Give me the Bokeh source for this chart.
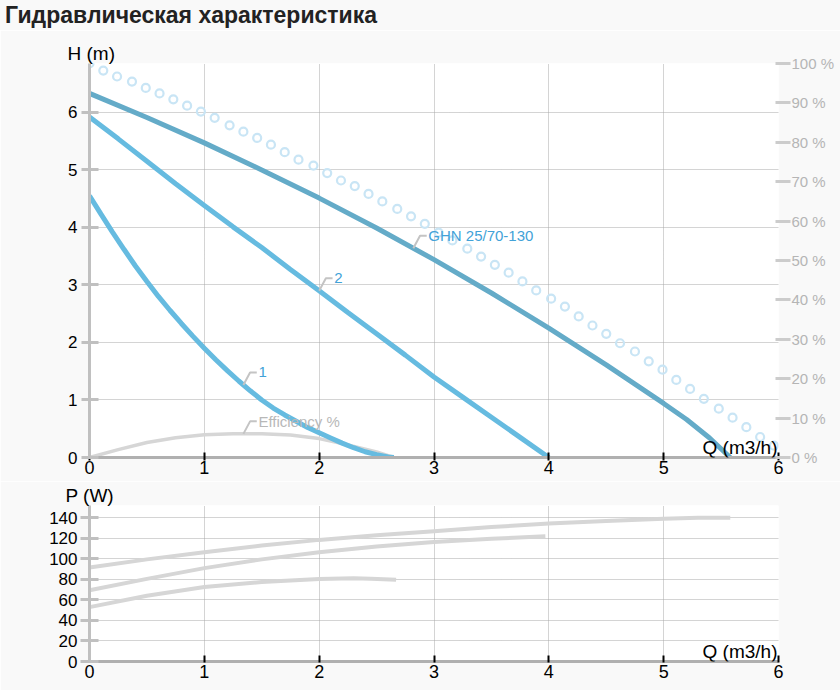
import numpy as np
from bokeh.plotting import figure
from bokeh.models import Range1d, LinearAxis, FixedTicker, PrintfTickFormatter, Label, Title, Div
from bokeh.layouts import column
from bokeh.embed import file_html
from bokeh.resources import INLINE

# ---------------- data ----------------
TITLE = "Гидравлическая характеристика"
X_TICKS = [0, 1, 2, 3, 4, 5, 6]
H_TICKS = [0, 1, 2, 3, 4, 5, 6]
PCT_TICKS = [0, 10, 20, 30, 40, 50, 60, 70, 80, 90, 100]
P_TICKS = [0, 20, 40, 60, 80, 100, 120, 140]

# head curves H (m) vs Q (m3/h)
q_max = [0, 0.5, 1.0, 1.5, 2.0, 2.5, 3.0, 3.5, 4.0, 4.5, 5.0, 5.2, 5.4, 5.58]
h_max = [6.33, 5.91, 5.47, 5.00, 4.51, 3.99, 3.44, 2.86, 2.25, 1.61, 0.94, 0.66, 0.34, 0.0]

q_2 = [0, 0.25, 0.5, 0.75, 1.0, 1.25, 1.5, 1.75, 2.0, 2.25, 2.5, 2.75, 3.0, 3.25, 3.5, 3.75, 4.0]
h_2 = [5.92, 5.54, 5.15, 4.76, 4.38, 4.01, 3.65, 3.27, 2.90, 2.52, 2.15, 1.78, 1.40, 1.05, 0.70, 0.35, 0.0]

q_1 = [0, 0.1, 0.2, 0.3, 0.4, 0.5, 0.6, 0.7, 0.8, 0.9, 1.0, 1.1, 1.2, 1.3, 1.4,
       1.5, 1.6, 1.7, 1.8, 1.9, 2.0, 2.1, 2.2, 2.3, 2.4, 2.5, 2.6, 2.65]
h_1 = [4.55, 4.23, 3.92, 3.62, 3.33, 3.06, 2.80, 2.56, 2.33, 2.11, 1.90, 1.70, 1.51, 1.33, 1.16,
       1.00, 0.86, 0.74, 0.63, 0.52, 0.43, 0.34, 0.25, 0.17, 0.10, 0.05, 0.01, 0.0]

# efficiency (%)
q_eff = [0, 0.25, 0.5, 0.75, 1.0, 1.25, 1.5, 1.75, 2.0, 2.25, 2.5, 2.65]
eff = [0, 2.0, 3.8, 5.0, 5.8, 6.0, 6.0, 5.7, 4.8, 3.2, 1.4, 0]

# dotted circle series (%)
q_circ = [0.00, 0.12, 0.24, 0.37, 0.49, 0.61, 0.73, 0.85, 0.97, 1.09,
          1.22, 1.34, 1.46, 1.58, 1.70, 1.82, 1.95, 2.07, 2.19, 2.31,
          2.43, 2.55, 2.68, 2.80, 2.92, 3.04, 3.16, 3.29, 3.41, 3.53,
          3.65, 3.77, 3.89, 4.02, 4.14, 4.26, 4.38, 4.50, 4.62, 4.75,
          4.87, 4.99, 5.11, 5.23, 5.35, 5.48, 5.60, 5.72, 5.84, 5.96]
pct_circ = [100, 98.2, 96.7, 95.4, 93.8, 92.4, 90.9, 89.3, 87.8, 86.2,
            84.3, 82.7, 81.1, 79.4, 77.5, 75.6, 74.1, 72.2, 70.3, 68.9,
            66.9, 65.0, 63.1, 61.2, 59.3, 57.1, 55.1, 53.0, 51.0, 48.9,
            46.9, 44.7, 42.4, 40.3, 38.3, 35.8, 33.5, 31.4, 29.0, 26.9,
            24.4, 22.3, 19.7, 17.4, 14.9, 12.4, 10.1, 7.7, 5.2, 3.0]

# power curves P (W)
qp_max = [0, 0.5, 1.0, 1.5, 2.0, 2.5, 3.0, 3.5, 4.0, 4.5, 5.0, 5.3, 5.58]
p_max = [91.5, 99.5, 106.5, 113, 118.5, 123, 127, 131, 134.5, 137, 139, 140, 140]
qp_2 = [0, 0.5, 1.0, 1.5, 2.0, 2.5, 3.0, 3.5, 3.97]
p_2 = [69.5, 80.5, 91.0, 99.5, 106.5, 112, 116.5, 119.5, 122]
qp_1 = [0, 0.5, 1.0, 1.5, 2.0, 2.3, 2.45, 2.67]
p_1 = [53, 64, 72.5, 77.5, 80.5, 81, 80.6, 79.6]

# series labels: (text, series, anchor Q)
LABELS = [("GHN 25/70-130", "max", 2.82), ("2", "2", 2.0), ("1", "1", 1.34), ("Efficiency %", "eff", 1.34)]

# ---------------- style ----------------
FONT = "Liberation Sans"
X_MAX, H_MAX, P_MAX = 6, 6.85, 152
FRAME_W, FRAME_H = 689, 394
PX_X = FRAME_W / X_MAX
PX_Y = FRAME_H / H_MAX
C_MAX = "#64abc8"
C_12 = "#66bbe0"
C_CIRC = "#c9e5f5"
C_GRAY = "#d6d6d6"
C_LABEL = "#42a2d8"
GRID = "#a8a8a8"
BG = "#f9f9f9"


def style_axis(ax, line_color, line_width, tick_color, tick_w, t_in, t_out, fsize, lcolor, standoff):
    ax.axis_line_color = line_color
    ax.axis_line_width = line_width
    ax.major_tick_line_color = tick_color
    ax.major_tick_line_width = tick_w
    ax.major_tick_in = t_in
    ax.major_tick_out = t_out
    ax.minor_tick_line_color = None
    ax.major_label_text_font = FONT
    ax.major_label_text_font_size = fsize
    ax.major_label_text_color = lcolor
    ax.major_label_standoff = standoff


def base_fig(height, ymax, top, bottom):
    p = figure(width=840, height=height, x_range=Range1d(0, X_MAX), y_range=Range1d(0, ymax),
               output_backend="svg", toolbar_location=None, title=None,
               min_border_left=89, min_border_right=62, min_border_top=top, min_border_bottom=bottom,
               background_fill_color="white", border_fill_color=BG, outline_line_color=None)
    for g in (p.xgrid[0], p.ygrid[0]):
        g.grid_line_color = GRID
        g.grid_line_dash = "1 1"
        g.grid_line_width = 1
    return p


def add_title(p, txt, offset, size, standoff, bold=False, color="#000000"):
    p.add_layout(Title(text=txt, align="left", offset=offset, standoff=standoff, text_font=FONT,
                       text_font_size=size, text_color=color,
                       text_font_style="bold" if bold else "normal"), "above")


def text_label(p, x, y, txt, dx, dy, size, color, align="left", baseline="middle"):
    p.add_layout(Label(x=x, y=y, text=txt, x_offset=dx, y_offset=dy, text_font=FONT,
                       text_font_size=size, text_color=color, text_align=align,
                       text_baseline=baseline))


# ---------------- title ----------------
title_div = Div(
    text=('<div style="font-family:\'Liberation Sans\';font-weight:bold;font-size:23px;'
          'line-height:26px;color:#222222;padding:2px 0 0 5px;white-space:nowrap;">'
          + TITLE + '</div>'),
    width=840, height=30, styles={"background-color": BG, "margin": "0", "padding": "0"})

# ---------------- top chart ----------------
p1 = base_fig(451, H_MAX, 33, 24)
p1.extra_y_ranges = {"pct": Range1d(0, 100)}
p1.xaxis.ticker = FixedTicker(ticks=X_TICKS)
p1.yaxis.ticker = FixedTicker(ticks=H_TICKS)
style_axis(p1.xaxis[0], "#b0b0b0", 3, "#000000", 2, 5, 3, "18px", "#000000", 0)
style_axis(p1.yaxis[0], "#c0c0c0", 3, "#c0c0c0", 3, 9, 8, "17px", "#000000", 4)
rax = LinearAxis(y_range_name="pct", ticker=FixedTicker(ticks=PCT_TICKS),
                 formatter=PrintfTickFormatter(format="%d %%"))
style_axis(rax, None, 1, "#cccccc", 3, 3, 12, "15px", "#b5b5b5", 1)
p1.add_layout(rax, "right")

p1.line(q_eff, eff, y_range_name="pct", line_color=C_GRAY, line_width=3.5)
p1.scatter(q_circ, pct_circ, y_range_name="pct", marker="circle", size=8,
           fill_color=None, line_color=C_CIRC, line_width=2.2)
p1.line(q_max, h_max, line_color=C_MAX, line_width=5)
p1.line(q_2, h_2, line_color=C_12, line_width=5)
p1.line(q_1, h_1, line_color=C_12, line_width=5)

series = {"max": (q_max, h_max), "2": (q_2, h_2), "1": (q_1, h_1),
          "eff": (q_eff, [e * H_MAX / 100 for e in eff])}
for txt, key, qa in LABELS:
    qs, hs = series[key]
    ya = float(np.interp(qa, qs, hs))
    xs = [qa, qa + 6.7 / PX_X, qa + 13.4 / PX_X]
    ys = [ya, ya + 12.5 / PX_Y, ya + 12.5 / PX_Y]
    p1.line(xs, ys, line_color="#c4c4c4", line_width=2)
    color = "#b8b8b8" if key == "eff" else C_LABEL
    text_label(p1, qa, ya, txt, 15, 12.5, "15px", color)

add_title(p1, "H (m)", -22, "19px", 0)
text_label(p1, X_MAX, 0, "Q (m3/h)", -1, 0, "19px", "#000000", align="right", baseline="bottom")

# ---------------- bottom chart ----------------
p2 = base_fig(209, P_MAX, 24, 29)
p2.xaxis.ticker = FixedTicker(ticks=X_TICKS)
p2.yaxis.ticker = FixedTicker(ticks=P_TICKS)
style_axis(p2.xaxis[0], "#b0b0b0", 3, "#000000", 2, 6, 1, "18px", "#000000", 2)
style_axis(p2.yaxis[0], "#c0c0c0", 3, "#c0c0c0", 3, 9, 9, "17px", "#000000", 3)

p2.line(qp_max, p_max, line_color=C_GRAY, line_width=4)
p2.line(qp_2, p_2, line_color=C_GRAY, line_width=4)
p2.line(qp_1, p_1, line_color=C_GRAY, line_width=4)

add_title(p2, "P (W)", -24, "19px", 0)
text_label(p2, X_MAX, 0, "Q (m3/h)", -1, 0, "19px", "#000000", align="right", baseline="bottom")

layout = column(title_div, p1, p2)
open("out.html", "w").write(file_html(layout, INLINE))
